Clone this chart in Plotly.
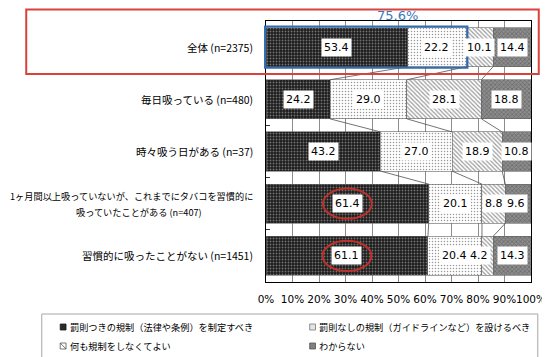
import plotly.graph_objects as go

# ---------------- data ----------------
categories = [
    "全体 (n=2375)",
    "毎日吸っている (n=480)",
    "時々吸う日がある (n=37)",
    "1ヶ月間以上吸っていないが、これまでにタバコを習慣的に<br>吸っていたことがある (n=407)",
    "習慣的に吸ったことがない (n=1451)",
]
series_names = [
    "罰則つきの規制（法律や条例）を制定すべき",
    "罰則なしの規制（ガイドラインなど）を設けるべき",
    "何も規制をしなくてよい",
    "わからない",
]
s_penalty = [53.4, 24.2, 43.2, 61.4, 61.1]
s_guideline = [22.2, 29.0, 27.0, 20.1, 20.4]
s_none = [10.1, 28.1, 18.9, 8.8, 4.2]
s_unknown = [14.4, 18.8, 10.8, 9.6, 14.3]
tick_vals = [0, 10, 20, 30, 40, 50, 60, 70, 80, 90, 100]
tick_labels = ["0%", "10%", "20%", "30%", "40%", "50%", "60%", "70%", "80%", "90%", "100%"]

series = [s_penalty, s_guideline, s_none, s_unknown]

# ---------------- layout geometry ----------------
W, H = 550, 357
ML, MR, MT, MB = 258, 19, 13, 83
PW, PH = W - ML - MR, H - MT - MB
NROW = len(categories)


def px_x(px):
    return (px - ML) / PW


def px_y(py):
    return (H - MB - py) / PH


def row_to_paper(y):
    # y axis is reversed: range [NROW-0.5, -0.5]
    return (NROW - 0.5 - y) / NROW


BAR_W = 0.75
LATIN = "DejaVu Sans, Noto Sans CJK JP"
CJK = "Noto Sans CJK JP, DejaVu Sans"

patterns = [
    dict(shape=".", bgcolor="#1c1c1c", fgcolor="#c8c8c8", size=3, solidity=0.3),
    dict(shape=".", bgcolor="#ffffff", fgcolor="#303030", size=3, solidity=0.2),
    dict(shape="\\", bgcolor="#ffffff", fgcolor="#383838", size=3, solidity=0.4),
    dict(shape="x", bgcolor="#8c8c8c", fgcolor="#4a4a4a", size=3, solidity=0.45),
]

ypos = list(range(NROW))
fig = go.Figure()

for name, vals, pat in zip(series_names, series, patterns):
    fig.add_trace(go.Bar(
        name=name, y=ypos, x=vals, orientation="h", width=BAR_W,
        marker=dict(color=pat["bgcolor"], pattern=pat,
                    line=dict(color="#606060", width=0.6)),
        hoverinfo="skip", showlegend=False,
    ))

# cumulative boundaries per row
cums = []
for i in ypos:
    c, row = 0.0, []
    for vals in series:
        c += vals[i]
        row.append(c)
    cums.append(row)

# series connector lines between bars
cx, cy = [], []
for i in ypos[:-1]:
    for k in range(3):
        cx += [cums[i][k], cums[i + 1][k], None]
        cy += [i + BAR_W / 2, i + 1 - BAR_W / 2, None]
fig.add_trace(go.Scatter(x=cx, y=cy, mode="lines",
                         line=dict(color="#505050", width=0.8),
                         hoverinfo="skip", showlegend=False))

annotations = []
shapes = []

# value labels
label_shift = {(4, 2): -9, (3, 3): -2}
for i in ypos:
    start = 0.0
    for k, vals in enumerate(series):
        v = vals[i]
        annotations.append(dict(
            x=start + v / 2, y=i, xref="x", yref="y", text=f"{v:.1f}",
            showarrow=False, bgcolor="white", borderpad=2,
            font=dict(family=LATIN, size=11, color="black"),
            xshift=label_shift.get((i, k), 0),
        ))
        start += v

# category labels (multi-line label: first line right-aligned, second centred under it)
for i, cat in enumerate(categories):
    lines = cat.split("<br>")
    if len(lines) == 1:
        annotations.append(dict(
            x=0, y=i, xref="paper", yref="y", text=cat, showarrow=False,
            xanchor="right", xshift=-11,
            font=dict(family=CJK, size=10.5, color="black"),
        ))
    else:
        annotations.append(dict(
            x=0, y=i, xref="paper", yref="y", text=lines[0], showarrow=False,
            xanchor="right", yanchor="middle", xshift=-11, yshift=8,
            font=dict(family=CJK, size=9.2, color="black"),
        ))
        annotations.append(dict(
            x=px_x(127), y=i, xref="paper", yref="y", text=lines[1], showarrow=False,
            xanchor="center", yanchor="middle", yshift=-8,
            font=dict(family=CJK, size=9.2, color="black"),
        ))

# red ellipses around highlighted values (rows 3 and 4)
for i in (3, 4):
    cxv = s_penalty[i] / 2
    shapes.append(dict(type="circle", xref="x", yref="y",
                       x0=cxv - 9.2, x1=cxv + 9.2, y0=i - 0.29, y1=i + 0.29,
                       line=dict(color="#c0302b", width=2)))

# blue box around first two segments of 全体
total_reg = s_penalty[0] + s_guideline[0]
shapes.append(dict(type="rect", xref="paper", yref="paper",
                   x0=px_x(257), x1=total_reg / 100 + 0.004,
                   y0=row_to_paper(0.395), y1=row_to_paper(-0.395),
                   line=dict(color="#2e6db4", width=2)))
annotations.append(dict(
    x=49.8, y=1, xref="x", yref="paper", text=f"{total_reg:.1f}%",
    showarrow=False, yanchor="middle", yshift=6,
    font=dict(family=LATIN, size=13, color="#3a78c0"),
))

# red frame around the 全体 row
shapes.append(dict(type="rect", xref="paper", yref="paper",
                   x0=px_x(11), x1=px_x(539), y0=px_y(66), y1=px_y(1.5),
                   line=dict(color="#d9413c", width=2)))

# legend (manual)
shapes.append(dict(type="rect", xref="paper", yref="paper",
                   x0=px_x(27), x1=px_x(538), y0=px_y(352), y1=px_y(306),
                   line=dict(color="#a6a6a6", width=1)))
leg_pos = [(49, 319), (306, 319), (49, 338), (306, 338)]
sym_fill = ["#2a2a2a", "#e4e4e4", "#ffffff", "#808080"]
sym_line = ["#1a1a1a", "#777777", "#555555", "#555555"]
for k, ((lx, ly), name, fc, lc) in enumerate(zip(leg_pos, series_names, sym_fill, sym_line)):
    shapes.append(dict(type="rect", xref="paper", yref="paper",
                       x0=px_x(lx - 3), x1=px_x(lx + 3),
                       y0=px_y(ly + 3), y1=px_y(ly - 3),
                       fillcolor=fc, line=dict(color=lc, width=0.8)))
    if k == 2:
        shapes.append(dict(type="line", xref="paper", yref="paper",
                           x0=px_x(lx - 3), x1=px_x(lx + 3),
                           y0=px_y(ly - 3), y1=px_y(ly + 3),
                           line=dict(color="#555555", width=0.8)))
    annotations.append(dict(
        x=px_x(lx + 5), y=px_y(ly), xref="paper", yref="paper", text=name,
        showarrow=False, xanchor="left", yanchor="middle",
        font=dict(family=CJK, size=9.2, color="black"),
    ))

fig.update_layout(
    width=W, height=H, margin=dict(l=ML, r=MR, t=MT, b=MB),
    barmode="stack", plot_bgcolor="white", paper_bgcolor="white",
    showlegend=False, annotations=annotations, shapes=shapes,
    xaxis=dict(range=[0, 100], tickvals=tick_vals, ticktext=tick_labels,
               showgrid=True, gridcolor="#8c8c8c", gridwidth=1,
               showline=True, linecolor="black", linewidth=1, mirror=True,
               ticks="", ticklabelstandoff=7, zeroline=False, tickangle=0,
               tickfont=dict(family=LATIN, size=10.5, color="black")),
    yaxis=dict(range=[NROW - 0.5, -0.5], autorange=False,
               tickvals=[i - 0.5 for i in range(NROW + 1)],
               showticklabels=False, ticks="inside", ticklen=4,
               tickcolor="#333333", showgrid=False, zeroline=False,
               showline=True, linecolor="black", linewidth=1, mirror=True),
)

fig.write_html("out.html")
